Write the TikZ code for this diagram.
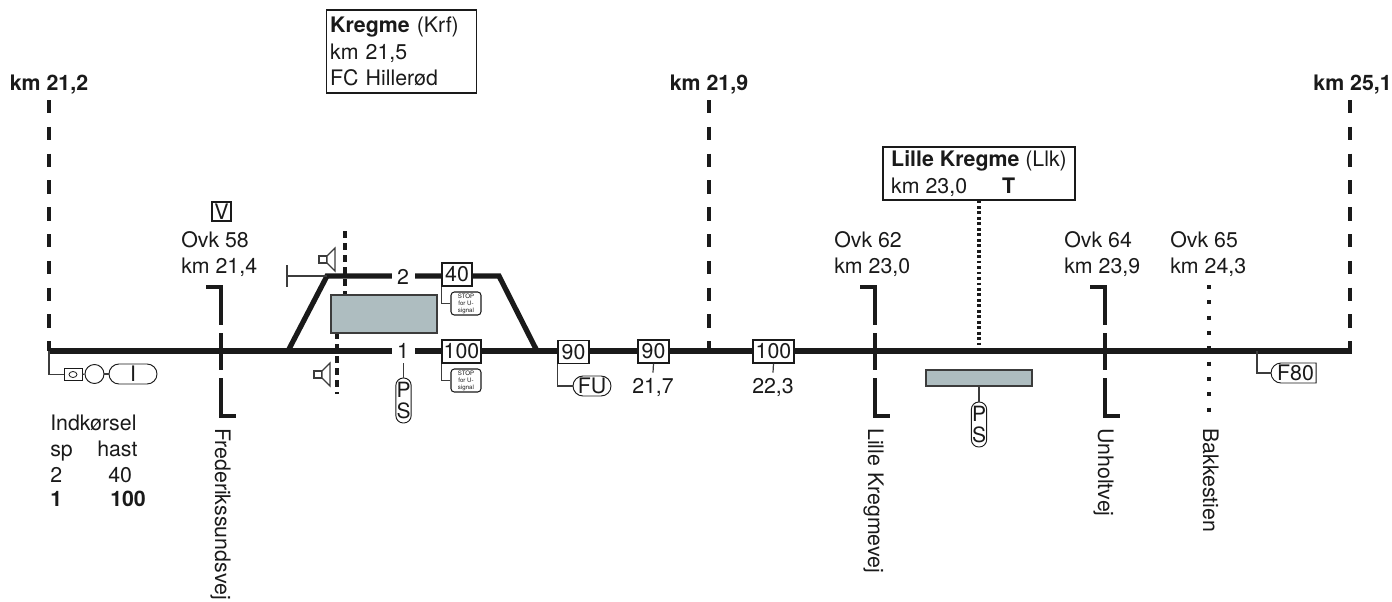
\documentclass[tikz,border=0pt]{standalone}
\usepackage{fontspec}
\setsansfont{TeX Gyre Heros}
\usepackage{xcolor}
\usetikzlibrary{shapes.misc, shapes.geometric}
\definecolor{platformgray}{HTML}{AEBDC0}
\definecolor{inkblack}{HTML}{1A1A1A}
\newcommand{\plantext}{\fontsize{16pt}{19.9pt}\selectfont\sffamily}
\tikzset{
  every node/.style={text=inkblack, font=\plantext},
  plainlabel/.style={anchor=base west, inner sep=0pt},
  boldlabel/.style={anchor=base, inner sep=0pt, font=\plantext\bfseries},
  roadlabel/.style={anchor=base west, inner sep=0pt, rotate=-90},
  stationbox/.style={
    draw=inkblack, line width=0.8pt, fill=white, align=left, inner ysep=0pt
  },
  signbox/.style={
    draw=inkblack, line width=0.8pt, fill=white, inner sep=0pt,
    minimum height=17.25pt
  },
  stopbox/.style={
    draw=inkblack, line width=0.8pt, fill=white, inner sep=0pt, rounded corners=2.5pt,
    minimum width=22.5pt, minimum height=17.25pt, align=center,
    font=\fontsize{4.6pt}{5.2pt}\selectfont\sffamily
  },
  pscapsule/.style={
    draw=inkblack, line width=0.7pt, fill=white, inner sep=0pt, rounded corners=5.6pt,
    minimum width=11.5pt, minimum height=33.75pt, align=center,
    font=\fontsize{15.75pt}{16pt}\selectfont\sffamily
  },
  wirecapsule/.style={
    draw=inkblack, line width=0.7pt, fill=white, inner sep=0pt,
    rounded rectangle, minimum height=15pt
  },
  platform/.style={
    draw=inkblack!85, line width=1.1pt, fill=platformgray, inner sep=0pt
  },
  tracknumber/.style={fill=white, inner sep=0pt, minimum width=17.25pt},
  trackline/.style={line width=3.9pt, color=inkblack},
  roadline/.style={line width=3pt, color=inkblack},
  kmtick/.style={line width=2.4pt, color=inkblack, dash pattern=on 10.1pt off 10pt},
  wireline/.style={line width=0.9pt, color=inkblack!85},
  stationdots/.style={line width=2.5pt, color=inkblack, dash pattern=on 2.1pt off 2pt},
  crossdots/.style={line width=3pt, color=inkblack, dash pattern=on 3pt off 8.5pt},
  platformdash/.style={line width=3pt, color=inkblack, dash pattern=on 5.6pt off 3.4pt},
}

\begin{document}
\begin{tikzpicture}[x=0.75pt, y=-0.75pt]
  \useasboundingbox (0,0) rectangle (1392,601);

  % ── Main track and loop ────────────────────────────────────────
  \coordinate (lineW) at (47.5,351);
  \coordinate (lineE) at (1351.5,351);
  \coordinate (loopW) at (288,351);
  \coordinate (loopE) at (537,351);
  \coordinate (loopNW) at (327,276);
  \coordinate (loopNE) at (499,276);
  \draw[trackline] (lineW) -- (lineE);
  \draw[trackline, line join=miter] (loopW) -- (loopNW) -- (loopNE) -- (loopE);

  % ── Kilometre limits ───────────────────────────────────────────
  \foreach \x/\lab/\nm in {49/km 21{,}2/kmA, 709/km 21{,}9/kmB} {
    \node[boldlabel] (\nm) at (\x,90) {\lab};
  }
  \node[boldlabel, anchor=base east] (kmC) at (1392,90) {km 25,1};
  \foreach \x/\nm in {49/tickA, 709/tickB, 1350/tickC} {
    \coordinate (\nm top) at (\x,100);
    \coordinate (\nm foot) at (\x,351);
    \draw[kmtick] (\nm top) -- (\nm foot);
  }

  % ── Level crossings ────────────────────────────────────────────
  \foreach \x in {221,875,1105} {
    \draw[roadline] (\x-15,287) -- (\x,287) -- (\x,325);
    \draw[roadline] (\x,333) -- (\x,370);
    \draw[roadline] (\x,378) -- (\x,416) -- (\x+15,416);
  }
  \coordinate (crossTop) at (1209,285);
  \coordinate (crossFoot) at (1209,412);
  \draw[crossdots] (crossTop) -- (crossFoot);

  \foreach \x/\ovk/\km/\nm in {181/58/21{,}4/ovkA, 834/62/23{,}0/ovkB,
                               1064/64/23{,}9/ovkC, 1170/65/24{,}3/ovkD} {
    \node[plainlabel] (\nm) at (\x,247) {Ovk \ovk};
    \node[plainlabel] (\nm km) at (\x,273) {km \km};
  }
  \node[signbox, minimum width=14.25pt, minimum height=14.25pt] (vsign) at (221.5,211.5) {V};

  \foreach \x/\lab/\nm in {215/Frederikssundsvej/roadA, 868/Lille Kregmevej/roadB,
                           1098/Unholtvej/roadC, 1203/Bakkestien/roadD} {
    \node[roadlabel] (\nm) at (\x,428) {\lab};
  }

  % ── Kregme station ─────────────────────────────────────────────
  \node[stationbox, text width=107pt, inner xsep=3pt, minimum height=62.25pt]
    (kregme) at (401.5,51.5) {\textbf{Kregme} (Krf)\\km 21,5\\FC Hillerød};

  \coordinate (dashN) at (345,231);
  \coordinate (dashNfoot) at (345,296);
  \coordinate (dashS) at (337,332);
  \coordinate (dashSfoot) at (337,394);
  \draw[platformdash] (dashN) -- (dashNfoot);
  \draw[platformdash] (dashS) -- (dashSfoot);
  \node[platform, minimum width=79.5pt, minimum height=28.5pt] (platformA) at (384,314) {};

  % Speakers
  \foreach \x/\y in {327/259.5, 322/374.5} {
    \draw[wireline, fill=white] (\x-8,\y-3.5) rectangle (\x,\y+3.5);
    \draw[wireline, fill=white] (\x,\y-3.5) -- (\x+8,\y-11.5) -- (\x+8,\y+11.5)
      -- (\x,\y+3.5) -- cycle;
  }

  % Buffer stop
  \coordinate (bufferN) at (287,265);
  \coordinate (bufferS) at (287,287);
  \coordinate (bufferM) at (287,276);
  \draw[wireline] (bufferN) -- (bufferS);
  \draw[wireline] (bufferM) -- (loopNW);

  % Track numbers and speed signs
  \node[tracknumber] (trackTwo) at (403,277) {2};
  \node[tracknumber] (trackOne) at (403,351) {1};
  \node[signbox, minimum width=22.5pt] (limitTwo) at (457,274.5) {40};
  \node[signbox, minimum width=29.25pt] (limitOne) at (461.5,351.5) {100};
  \node[stopbox] (stopTwo) at (466,303.5) {STOP\\for U-\\signal};
  \node[stopbox] (stopOne) at (466,380.5) {STOP\\for U-\\signal};
  \draw[wireline] (limitTwo.south west) |- (stopTwo.west);
  \draw[wireline] (limitOne.south west) |- (stopOne.west);

  \coordinate (psOneTop) at (403.5,363);
  \node[pscapsule] (psOne) at (403.5,400.5) {P\\S};
  \draw[wireline] (psOneTop) -- (psOne.north);

  % ── Speed signs on the line ────────────────────────────────────
  \node[signbox, minimum width=23.25pt] (limitA) at (573.5,352) {90};
  \node[signbox, minimum width=23.25pt] (limitB) at (653.5,351.5) {90};
  \node[signbox, minimum width=30.75pt] (limitC) at (773.5,351.5) {100};
  \node[wirecapsule, minimum width=28.5pt] (fusign) at (592,386) {FU};
  \draw[wireline] (limitA.south west) |- (fusign.west);
  \node[anchor=base, inner xsep=0pt, inner ysep=3.75pt] (posB) at (653,393) {21,7};
  \node[anchor=base, inner xsep=0pt, inner ysep=3.75pt] (posC) at (773,393) {22,3};
  \draw[wireline] (limitB.south) -- (posB.north);
  \draw[wireline] (limitC.south) -- (posC.north);

  % ── Lille Kregme ───────────────────────────────────────────────
  \node[stationbox, inner xsep=6pt, minimum width=144pt, minimum height=39.75pt]
    (lillekregme) at (979,173.5)
    {\textbf{Lille Kregme} (Llk)\\\makebox[83.25pt][l]{km 23,0}\textbf{T}};
  \coordinate (lillefoot) at (979,348);
  \draw[stationdots] (lillekregme.south) -- (lillefoot);
  \node[platform, minimum width=79.5pt, minimum height=12pt] (platformB) at (979,378) {};
  \node[pscapsule] (psTwo) at (979,424.5) {P\\S};
  \draw[wireline] (platformB.south) -- (psTwo.north);

  % ── Line end sign ──────────────────────────────────────────────
  \coordinate (feighty) at (1257,351);
  \node[wirecapsule, rounded rectangle right arc=none, minimum width=33.75pt]
    (fsign) at (1295.5,373) {F80};
  \draw[wireline] (feighty) |- (fsign.west);

  % ── Entry signal ───────────────────────────────────────────────
  \coordinate (entryTop) at (49,351);
  \node[draw=inkblack, line width=0.7pt, minimum width=13.5pt, minimum height=9pt, inner sep=0pt]
    (entrybox) at (73,374.5) {};
  \node[draw=inkblack, line width=0.6pt, ellipse, minimum width=6pt, minimum height=4.5pt, inner sep=0pt]
    (entrylamp) at (73,374.5) {};
  \node[draw=inkblack, line width=0.7pt, circle, minimum size=14.25pt, inner sep=0pt]
    (entryhead) at (94.5,374) {};
  \node[wirecapsule, minimum width=36pt] (entrysign) at (133,374) {I};
  \draw[wireline] (entryTop) |- (entrybox.west);
  \draw[wireline] (entrybox.east) -- (entryhead.west);
  \draw[wireline] (entryhead.east) -- (entrysign.west);

  % ── Entry table ────────────────────────────────────────────────
  \node[plainlabel] (tabhead) at (50,430) {Indkørsel};
  \node[plainlabel] (tabsp) at (50,456) {sp};
  \node[plainlabel] (tabhast) at (97,456) {hast};
  \node[plainlabel] (tabtwo) at (50,482) {2};
  \node[plainlabel] (tabforty) at (108,482) {40};
  \node[plainlabel, font=\plantext\bfseries] (tabone) at (50,506) {1};
  \node[plainlabel, font=\plantext\bfseries] (tabhundred) at (110,506) {100};
\end{tikzpicture}
\end{document}
